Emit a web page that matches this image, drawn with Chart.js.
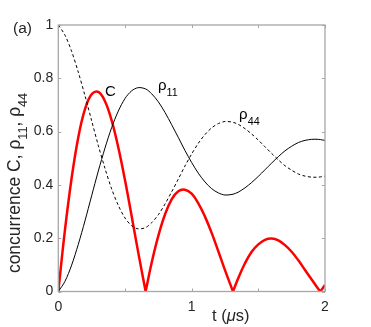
<!DOCTYPE html>
<html>
<head>
<meta charset="utf-8">
<script src="https://cdn.jsdelivr.net/npm/chart.js@4"></script>
<style>
  body { margin: 0; background: #fff; }
  canvas { display: block; }
</style>
</head>
<body>
<canvas id="chart" width="371" height="327"></canvas>
<script>
// Data (t in microseconds)
const rhoTimes = [0, 0.05, 0.1, 0.15, 0.2, 0.25, 0.3, 0.35, 0.4, 0.45, 0.5, 0.55, 0.6, 0.655,
  0.7, 0.75, 0.8, 0.85, 0.9, 0.95, 1.0, 1.05, 1.1, 1.15, 1.2, 1.25, 1.31,
  1.35, 1.4, 1.45, 1.5, 1.55, 1.6, 1.65, 1.7, 1.75, 1.8, 1.85, 1.9, 1.95, 1.965, 2.0];
const rho11 = [0, 0.038, 0.099, 0.177, 0.265, 0.359, 0.452, 0.538, 0.615, 0.677, 0.724, 0.753, 0.765, 0.760,
  0.742, 0.712, 0.672, 0.626, 0.578, 0.529, 0.484, 0.444, 0.411, 0.386, 0.370, 0.362, 0.365,
  0.373, 0.389, 0.409, 0.432, 0.457, 0.482, 0.506, 0.528, 0.545, 0.559, 0.567, 0.571, 0.571, 0.570, 0.567];
const rho44 = [1, 0.962, 0.901, 0.823, 0.735, 0.641, 0.548, 0.462, 0.385, 0.323, 0.276, 0.247, 0.235, 0.240,
  0.258, 0.288, 0.328, 0.374, 0.422, 0.471, 0.516, 0.556, 0.589, 0.614, 0.630, 0.638, 0.635,
  0.627, 0.611, 0.591, 0.568, 0.543, 0.518, 0.494, 0.472, 0.455, 0.441, 0.433, 0.429, 0.429, 0.430, 0.433];

// concurrence: the zeros (cusps) are listed twice so each lobe is smoothed on its own
const cTimes = [0, 0.05, 0.1, 0.15, 0.2, 0.25, 0.3, 0.35, 0.4, 0.45, 0.5, 0.55, 0.6, 0.655, 0.655,
  0.7, 0.75, 0.8, 0.85, 0.9, 0.95, 1.0, 1.05, 1.1, 1.15, 1.2, 1.25, 1.31, 1.31,
  1.35, 1.4, 1.45, 1.5, 1.55, 1.6, 1.65, 1.7, 1.75, 1.8, 1.85, 1.9, 1.95, 1.965, 1.965, 2.0];
const concurrence = [0, 0.231, 0.426, 0.579, 0.684, 0.740, 0.749, 0.714, 0.642, 0.540, 0.418, 0.283, 0.145, 0, 0,
  0.108, 0.209, 0.289, 0.346, 0.376, 0.382, 0.367, 0.331, 0.281, 0.220, 0.151, 0.080, 0, 0,
  0.051, 0.106, 0.149, 0.177, 0.194, 0.199, 0.192, 0.174, 0.149, 0.117, 0.081, 0.045, 0.009, 0, 0, 0.024];

const xTicks = [0, 0.5, 1, 1.5, 2];
const xTickLabels = ['0', '', '1', '', '2'];
const yTicks = [0, 0.2, 0.4, 0.6, 0.8, 1];
const yTickLabels = ['0', '0.2', '0.4', '0.6', '0.8', '1'];

const FONT = '"Liberation Sans", Arial, Helvetica, sans-serif';
const axisColor = '#a6a6a6';
const textColor = '#262626';

const toPoints = (xs, ys) => ys.map((v, i) => ({ x: xs[i], y: v }));

// draw a string made of pieces, some of them subscripts
function richWidth(ctx, parts, size) {
    let w = 0;
    parts.forEach(p => {
        ctx.font = `${p.italic ? 'italic ' : ''}${p.sub ? size * 0.72 : size}px ${FONT}`;
        w += ctx.measureText(p.text).width;
    });
    return w;
}
function drawRich(ctx, parts, x, y, size) {
    let cx = x;
    parts.forEach(p => {
        ctx.font = `${p.italic ? 'italic ' : ''}${p.sub ? size * 0.72 : size}px ${FONT}`;
        ctx.fillText(p.text, cx, p.sub ? y + size * 0.38 : y);
        cx += ctx.measureText(p.text).width;
    });
}

const decorations = {
    id: 'decorations',
    afterDraw(chart) {
        const { ctx, chartArea: a, scales: { x, y } } = chart;
        ctx.save();
        // box and inward ticks
        ctx.strokeStyle = axisColor;
        ctx.lineWidth = 1.3;
        ctx.strokeRect(a.left, a.top, a.right - a.left, a.bottom - a.top);
        ctx.lineWidth = 1;
        ctx.beginPath();
        xTicks.forEach(v => {
            const px = Math.round(x.getPixelForValue(v)) + 0.5;
            ctx.moveTo(px, a.bottom); ctx.lineTo(px, a.bottom - 3);
            ctx.moveTo(px, a.top); ctx.lineTo(px, a.top + 3);
        });
        yTicks.forEach(v => {
            const py = Math.round(y.getPixelForValue(v)) + 0.5;
            ctx.moveTo(a.left, py); ctx.lineTo(a.left + 3, py);
            ctx.moveTo(a.right, py); ctx.lineTo(a.right - 3, py);
        });
        ctx.stroke();

        ctx.textBaseline = 'alphabetic';
        ctx.textAlign = 'left';
        ctx.fillStyle = '#000';

        // curve labels
        ctx.font = `15px ${FONT}`;
        ctx.fillText('C', x.getPixelForValue(0.35), y.getPixelForValue(0.735));
        drawRich(ctx, [{ text: 'ρ' }, { text: '11', sub: true }],
            x.getPixelForValue(0.748), y.getPixelForValue(0.756), 15);
        drawRich(ctx, [{ text: 'ρ' }, { text: '44', sub: true }],
            x.getPixelForValue(1.356), y.getPixelForValue(0.647), 15);

        // panel tag
        ctx.fillStyle = textColor;
        ctx.font = `15.5px ${FONT}`;
        ctx.fillText('(a)', 13, 33);

        // x axis title
        drawRich(ctx, [{ text: 't (' }, { text: 'μ', italic: true }, { text: 's)' }], 212, 321, 16.5);

        // y axis title (rotated)
        const yParts = [{ text: 'concurrence C, ρ' }, { text: '11', sub: true },
            { text: ', ρ' }, { text: '44', sub: true }];
        const size = 17.5;
        const w = richWidth(ctx, yParts, size);
        ctx.translate(20, 183);
        ctx.rotate(-Math.PI / 2);
        drawRich(ctx, yParts, -w / 2, 0, size);
        ctx.restore();
    }
};

new Chart(document.getElementById('chart'), {
    type: 'line',
    data: {
        datasets: [
            {
                label: 'rho44',
                data: toPoints(rhoTimes, rho44),
                borderColor: '#000',
                borderWidth: 1,
                borderDash: [3, 2.5],
                tension: 0.3,
                order: 0
            },
            {
                label: 'rho11',
                data: toPoints(rhoTimes, rho11),
                borderColor: '#000',
                borderWidth: 1,
                tension: 0.3,
                order: 1
            },
            {
                label: 'C',
                data: toPoints(cTimes, concurrence),
                borderColor: '#ff0000',
                borderWidth: 2.5,
                tension: 0.4,
                order: 2
            }
        ]
    },
    options: {
        responsive: false,
        animation: false,
        layout: { padding: { top: 25, right: 46, left: 0, bottom: 0 } },
        elements: { point: { radius: 0 } },
        plugins: { legend: { display: false }, tooltip: { enabled: false } },
        scales: {
            x: {
                type: 'linear',
                min: 0,
                max: 2,
                afterFit: s => { s.height = 35.5; },
                afterBuildTicks: s => { s.ticks = xTicks.map(v => ({ value: v })); },
                grid: { display: false, drawTicks: false },
                border: { display: false },
                ticks: {
                    padding: 7,
                    autoSkip: false,
                    maxRotation: 0,
                    color: textColor,
                    font: { family: FONT, size: 14 },
                    callback: (v, i) => xTickLabels[i]
                }
            },
            y: {
                min: 0,
                max: 1,
                afterFit: s => { s.width = 58.3; },
                afterBuildTicks: s => { s.ticks = yTicks.map(v => ({ value: v })); },
                grid: { display: false, drawTicks: false },
                border: { display: false },
                ticks: {
                    padding: 5,
                    color: textColor,
                    font: { family: FONT, size: 14 },
                    callback: (v, i) => yTickLabels[i]
                }
            }
        }
    },
    plugins: [decorations]
});
</script>
</body>
</html>
